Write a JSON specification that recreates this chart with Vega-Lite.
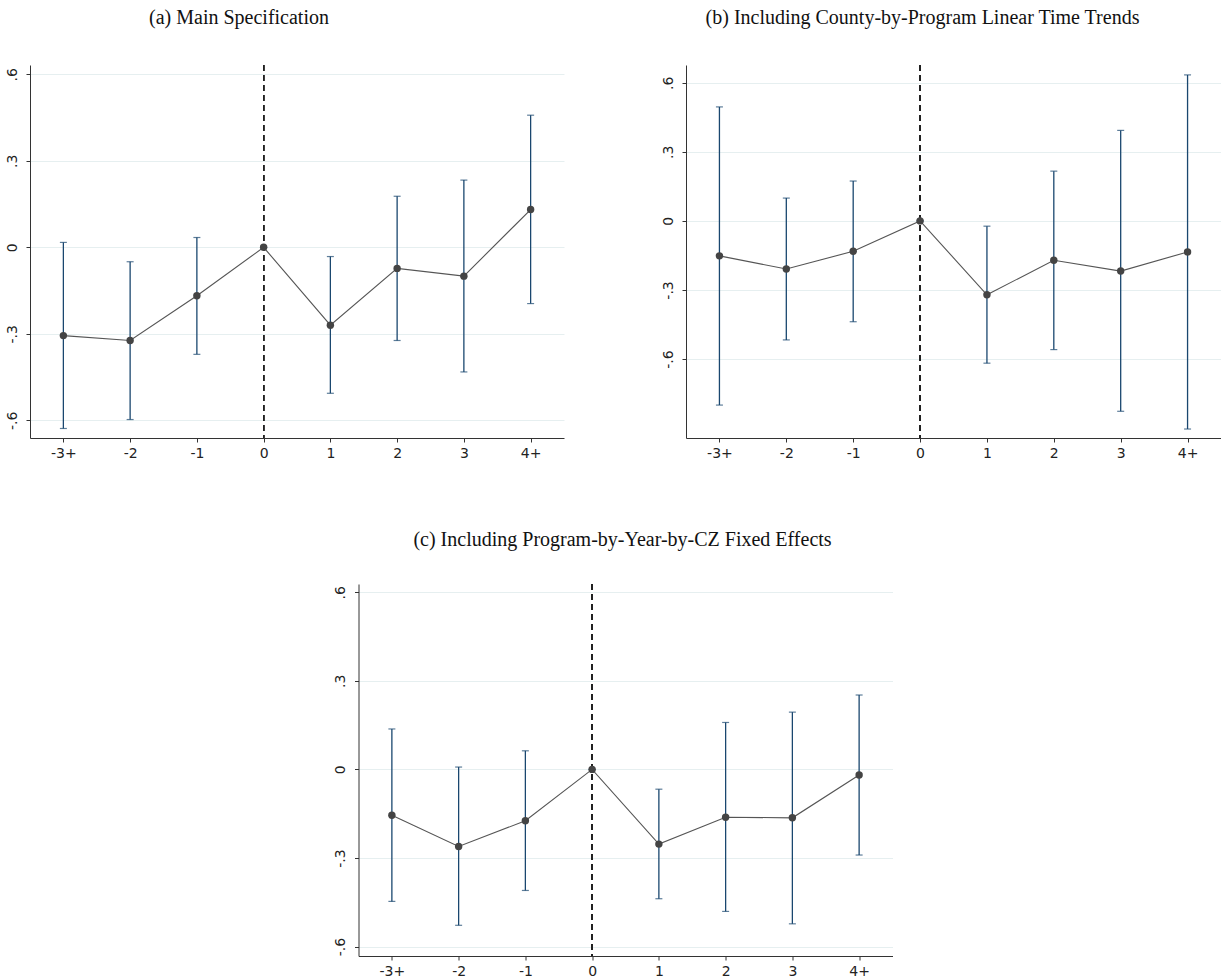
{
  "$schema": "https://vega.github.io/schema/vega-lite/v6.json",
  "padding": {"left": 5, "top": 8, "right": 0, "bottom": 0},
  "background": "white",
  "config": {
    "view": {"stroke": null},
    "axis": {"domainColor": "#333333", "tickColor": "#333333", "labelFont": "DejaVu Sans", "labelFontSize": 14, "labelColor": "#222222", "title": null, "tickSize": 4},
    "title": {"font": "Liberation Serif", "fontSize": 20, "fontWeight": "normal", "color": "#111111", "anchor": "middle", "baseline": "alphabetic", "offset": 36}
  },
  "datasets": {
    "a": [
      {"t": "-3+", "b": -0.306, "lo": -0.628, "hi": 0.017},
      {"t": "-2", "b": -0.323, "lo": -0.597, "hi": -0.050},
      {"t": "-1", "b": -0.168, "lo": -0.371, "hi": 0.034},
      {"t": "0", "b": 0, "lo": 0, "hi": 0},
      {"t": "1", "b": -0.270, "lo": -0.506, "hi": -0.032},
      {"t": "2", "b": -0.073, "lo": -0.323, "hi": 0.177},
      {"t": "3", "b": -0.100, "lo": -0.432, "hi": 0.233},
      {"t": "4+", "b": 0.131, "lo": -0.195, "hi": 0.458}
    ],
    "b": [
      {"t": "-3+", "b": -0.152, "lo": -0.800, "hi": 0.495},
      {"t": "-2", "b": -0.209, "lo": -0.517, "hi": 0.099},
      {"t": "-1", "b": -0.132, "lo": -0.438, "hi": 0.173},
      {"t": "0", "b": 0, "lo": 0, "hi": 0},
      {"t": "1", "b": -0.321, "lo": -0.618, "hi": -0.023},
      {"t": "2", "b": -0.171, "lo": -0.559, "hi": 0.216},
      {"t": "3", "b": -0.218, "lo": -0.827, "hi": 0.393},
      {"t": "4+", "b": -0.135, "lo": -0.904, "hi": 0.634}
    ],
    "c": [
      {"t": "-3+", "b": -0.155, "lo": -0.447, "hi": 0.137},
      {"t": "-2", "b": -0.261, "lo": -0.528, "hi": 0.008},
      {"t": "-1", "b": -0.174, "lo": -0.410, "hi": 0.063},
      {"t": "0", "b": 0, "lo": 0, "hi": 0},
      {"t": "1", "b": -0.253, "lo": -0.438, "hi": -0.067},
      {"t": "2", "b": -0.162, "lo": -0.481, "hi": 0.159},
      {"t": "3", "b": -0.164, "lo": -0.523, "hi": 0.194},
      {"t": "4+", "b": -0.019, "lo": -0.290, "hi": 0.252}
    ]
  },
  "vconcat": [
    {
      "hconcat": [
        {
          "title": {"text": "(a) Main Specification", "dx": -58},
          "width": 534, "height": 373,
          "data": {"name": "a"},
          "encoding": {
            "x": {"field": "t", "type": "ordinal", "sort": ["-3+", "-2", "-1", "0", "1", "2", "3", "4+"], "scale": {"type": "point", "padding": 0.5}, "axis": {"labelAngle": 0, "labelPadding": 4, "grid": false}}
          },
          "layer": [
            {"mark": {"type": "rule", "color": "#000000", "strokeWidth": 1.3}, "encoding": {"y": {"datum": 0, "type": "quantitative"}}},
            {"mark": {"type": "rule", "color": "#222222", "strokeWidth": 1.2, "strokeDash": [6, 4]}, "encoding": {"x": {"datum": "0", "type": "ordinal"}}},
            {"mark": {"type": "rule", "color": "#1a476f", "strokeWidth": 1.3}, "encoding": {"y": {"field": "lo", "type": "quantitative", "scale": {"domain": [-0.661, 0.632], "nice": false, "zero": false}, "axis": {"values": [-0.6, -0.3, 0, 0.3, 0.6], "labelExpr": "(datum.value < 0 ? '-' : '') + (datum.value == 0 ? '0' : '.' + round(abs(datum.value) * 10))", "labelAngle": -90, "labelAlign": "center", "labelBaseline": "bottom", "labelPadding": 7, "grid": true, "gridColor": "#e6eff0", "gridWidth": 1}}, "y2": {"field": "hi"}}},
            {"mark": {"type": "tick", "color": "#1a476f", "size": 7, "thickness": 1.2}, "encoding": {"y": {"field": "lo", "type": "quantitative"}}},
            {"mark": {"type": "tick", "color": "#1a476f", "size": 7, "thickness": 1.2}, "encoding": {"y": {"field": "hi", "type": "quantitative"}}},
            {"mark": {"type": "line", "color": "#555555", "strokeWidth": 1.1}, "encoding": {"y": {"field": "b", "type": "quantitative"}}},
            {"mark": {"type": "point", "filled": true, "color": "#444444", "opacity": 1, "size": 55}, "encoding": {"y": {"field": "b", "type": "quantitative"}}}
          ]
        },
        {
          "title": {"text": "(b) Including County-by-Program Linear Time Trends", "dx": -31},
          "width": 535, "height": 373,
          "data": {"name": "b"},
          "encoding": {
            "x": {"field": "t", "type": "ordinal", "sort": ["-3+", "-2", "-1", "0", "1", "2", "3", "4+"], "scale": {"type": "point", "padding": 0.5}, "axis": {"labelAngle": 0, "labelPadding": 4, "grid": false}}
          },
          "layer": [
            {"mark": {"type": "rule", "color": "#000000", "strokeWidth": 1.3}, "encoding": {"y": {"datum": 0, "type": "quantitative"}}},
            {"mark": {"type": "rule", "color": "#222222", "strokeWidth": 1.2, "strokeDash": [6, 4]}, "encoding": {"x": {"datum": "0", "type": "ordinal"}}},
            {"mark": {"type": "rule", "color": "#1a476f", "strokeWidth": 1.3}, "encoding": {"y": {"field": "lo", "type": "quantitative", "scale": {"domain": [-0.943, 0.677], "nice": false, "zero": false}, "axis": {"values": [-0.6, -0.3, 0, 0.3, 0.6], "labelExpr": "(datum.value < 0 ? '-' : '') + (datum.value == 0 ? '0' : '.' + round(abs(datum.value) * 10))", "labelAngle": -90, "labelAlign": "center", "labelBaseline": "bottom", "labelPadding": 7, "grid": true, "gridColor": "#e6eff0", "gridWidth": 1}}, "y2": {"field": "hi"}}},
            {"mark": {"type": "tick", "color": "#1a476f", "size": 7, "thickness": 1.2}, "encoding": {"y": {"field": "lo", "type": "quantitative"}}},
            {"mark": {"type": "tick", "color": "#1a476f", "size": 7, "thickness": 1.2}, "encoding": {"y": {"field": "hi", "type": "quantitative"}}},
            {"mark": {"type": "line", "color": "#555555", "strokeWidth": 1.1}, "encoding": {"y": {"field": "b", "type": "quantitative"}}},
            {"mark": {"type": "point", "filled": true, "color": "#444444", "opacity": 1, "size": 55}, "encoding": {"y": {"field": "b", "type": "quantitative"}}}
          ]
        }
      ],
      "spacing": 96
    },
    {
      "title": {"text": "(c) Including Program-by-Year-by-CZ Fixed Effects", "dx": -3, "offset": 33},
      "width": 534, "height": 372,
      "data": {"name": "c"},
      "encoding": {
        "x": {"field": "t", "type": "ordinal", "sort": ["-3+", "-2", "-1", "0", "1", "2", "3", "4+"], "scale": {"type": "point", "padding": 0.5}, "axis": {"labelAngle": 0, "labelPadding": 4, "grid": false}}
      },
      "layer": [
        {"mark": {"type": "rule", "color": "#000000", "strokeWidth": 1.3}, "encoding": {"y": {"datum": 0, "type": "quantitative"}}},
        {"mark": {"type": "rule", "color": "#222222", "strokeWidth": 1.2, "strokeDash": [6, 4]}, "encoding": {"x": {"datum": "0", "type": "ordinal"}}},
        {"mark": {"type": "rule", "color": "#1a476f", "strokeWidth": 1.3}, "encoding": {"y": {"field": "lo", "type": "quantitative", "scale": {"domain": [-0.632, 0.628], "nice": false, "zero": false}, "axis": {"values": [-0.6, -0.3, 0, 0.3, 0.6], "labelExpr": "(datum.value < 0 ? '-' : '') + (datum.value == 0 ? '0' : '.' + round(abs(datum.value) * 10))", "labelAngle": -90, "labelAlign": "center", "labelBaseline": "bottom", "labelPadding": 7, "grid": true, "gridColor": "#e6eff0", "gridWidth": 1}}, "y2": {"field": "hi"}}},
        {"mark": {"type": "tick", "color": "#1a476f", "size": 7, "thickness": 1.2}, "encoding": {"y": {"field": "lo", "type": "quantitative"}}},
        {"mark": {"type": "tick", "color": "#1a476f", "size": 7, "thickness": 1.2}, "encoding": {"y": {"field": "hi", "type": "quantitative"}}},
        {"mark": {"type": "line", "color": "#555555", "strokeWidth": 1.1}, "encoding": {"y": {"field": "b", "type": "quantitative"}}},
        {"mark": {"type": "point", "filled": true, "color": "#444444", "opacity": 1, "size": 55}, "encoding": {"y": {"field": "b", "type": "quantitative"}}}
      ]
    }
  ],
  "spacing": 70,
  "center": true
}
